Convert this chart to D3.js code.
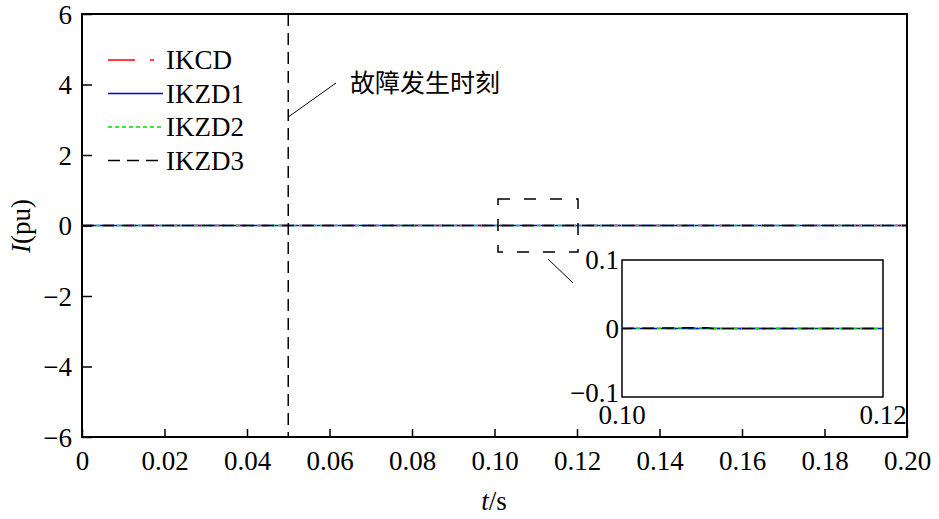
<!DOCTYPE html>
<html><head><meta charset="utf-8">
<script src="https://cdn.jsdelivr.net/npm/d3@7"></script>
<style>body{margin:0;background:#fff}svg text{font-family:"Liberation Serif","DejaVu Serif",serif !important}svg text.cjk{font-family:"Noto Sans CJK SC",sans-serif !important}</style>
</head><body><svg id="c" width="939" height="519"></svg>
<script>
const xTicks=[0,0.02,0.04,0.06,0.08,0.10,0.12,0.14,0.16,0.18,0.20];
const xTickLabels=["0","0.02","0.04","0.06","0.08","0.10","0.12","0.14","0.16","0.18","0.20"];
const yTicks=[-6,-4,-2,0,2,4,6];
const seriesNames=["IKCD","IKZD1","IKZD2","IKZD3"];
const seriesColors=["#ff0000","#0000ff","#00dd00","#000000"];
const seriesDash=["10,12","","4,3","12,8"];
const tValues=[0,0.05,0.1,0.1045,0.105,0.1055,0.106,0.1065,0.107,0.12,0.2];
const IKCD=[0,0,0,0,0,0,0,0,0,0,0];
const IKZD1=[0,0,0,0,0,0,0,0,0,0,0];
const IKZD2=[0,0,0,0.0008,0.001,0.001,0.0008,0.0008,0,0,0];
const IKZD3=[0,0,0,0.001,0.0012,0.0012,0.001,0.001,0,0,0];
const seriesValues=[IKCD,IKZD1,IKZD2,IKZD3];
const faultTime=0.05;
const svg=d3.select("#c");
const x=d3.scaleLinear().domain([0,0.2]).range([82,907]);
const y=d3.scaleLinear().domain([-6,6]).range([437,14]);
const g=svg.append("g");
seriesValues.forEach((v,i)=>{
  g.append("path").datum(v).attr("fill","none").attr("stroke",seriesColors[i]).attr("stroke-width",1.5)
   .attr("stroke-dasharray",seriesDash[i]||null)
   .attr("d",d3.line().x((d,j)=>x(tValues[j])).y(d=>y(d)));
});
g.append("line").attr("x1",x(faultTime)).attr("x2",x(faultTime)).attr("y1",y(6)).attr("y2",y(-6))
 .attr("stroke","#000").attr("stroke-width",1.5).attr("stroke-dasharray","12,7");
g.append("rect").attr("x",82).attr("y",14).attr("width",825).attr("height",423).attr("fill","none").attr("stroke","#000").attr("stroke-width",2);
const xa=g.append("g").attr("transform","translate(0,437)").call(d3.axisBottom(x).tickValues(xTicks).tickSize(-8).tickPadding(14).tickFormat((d,i)=>xTickLabels[i]));
const ya=g.append("g").attr("transform","translate(82,0)").call(d3.axisLeft(y).tickValues(yTicks).tickSize(-10).tickPadding(10).tickFormat(d=>d<0?"\u2212"+(-d):d));
[xa,ya].forEach(a=>{a.attr("font-family",null);a.select(".domain").remove();a.selectAll("text").attr("font-size",27).attr("fill","#000");a.selectAll("line").attr("stroke-width",1.5);});
ya.selectAll("text").attr("dy","0.35em");
svg.append("text").attr("x",494).attr("y",510).attr("text-anchor","middle").attr("font-size",27)
 .html('<tspan font-style="italic">t</tspan>/s');
svg.append("text").attr("transform","translate(30,226) rotate(-90)").attr("text-anchor","middle").attr("font-size",27)
 .html('<tspan font-style="italic">I</tspan>(pu)');
seriesNames.forEach((n,i)=>{
  const ly=60+i*33.5;
  svg.append("line").attr("x1",108).attr("x2",163).attr("y1",ly).attr("y2",ly).attr("stroke",seriesColors[i]).attr("stroke-width",1.5)
   .attr("stroke-dasharray",i==0?"27,15,4,20":(i==3?"12,7":(seriesDash[i]||null)));
  svg.append("text").attr("x",166).attr("y",ly+9).attr("font-size",27).text(n);
});
svg.append("line").attr("x1",x(faultTime)).attr("y1",117).attr("x2",336).attr("y2",83).attr("stroke","#000");
svg.append("text").attr("class","cjk").attr("x",350).attr("y",92).attr("font-size",25).text("故障发生时刻");
svg.append("rect").attr("x",498).attr("y",199).attr("width",80).attr("height",53).attr("fill","none").attr("stroke","#000").attr("stroke-width",1.5).attr("stroke-dasharray","12,14");
svg.append("line").attr("x1",548).attr("y1",259).attr("x2",573).attr("y2",283).attr("stroke","#000");
const xi=d3.scaleLinear().domain([0.10,0.12]).range([622,883]);
const yi=d3.scaleLinear().domain([-0.1,0.1]).range([397,260]);
const ig=svg.append("g");
ig.append("rect").attr("x",622).attr("y",260).attr("width",261).attr("height",137).attr("fill","#fff").attr("stroke","#000").attr("stroke-width",1.5);
seriesValues.forEach((v,i)=>{
  ig.append("path").datum(v).attr("fill","none").attr("stroke",seriesColors[i]).attr("stroke-width",1.5)
   .attr("stroke-dasharray",seriesDash[i]||null)
   .attr("d",d3.line().defined((d,j)=>tValues[j]>=0.1&&tValues[j]<=0.12).x((d,j)=>xi(tValues[j])).y(d=>yi(d)));
});
[[0.1,"0.1"],[0,"0"],[-0.1,"\u22120.1"]].forEach(([v,l])=>{
  ig.append("text").attr("x",619).attr("y",yi(v)+(v<0?5:9)).attr("text-anchor","end").attr("font-size",27).text(l);
});
[[0.10,"0.10"],[0.12,"0.12"]].forEach(([v,l])=>{
  ig.append("text").attr("x",xi(v)).attr("y",424).attr("text-anchor","middle").attr("font-size",27).text(l);
});
</script></body></html>
